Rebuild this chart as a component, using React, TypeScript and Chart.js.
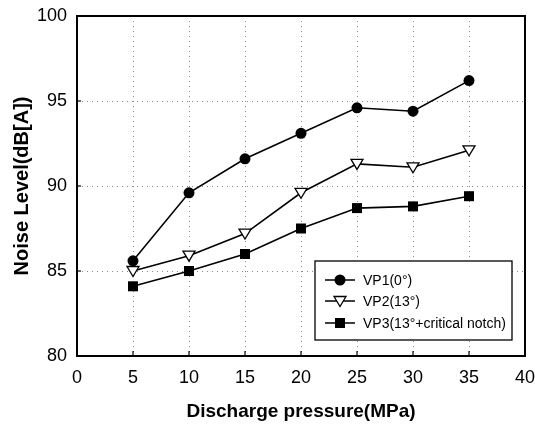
import React, { useEffect, useRef } from 'react';
import { Chart, registerables } from 'chart.js';

Chart.register(...registerables);

const pressures = [5, 10, 15, 20, 25, 30, 35];
const vp1 = [85.6, 89.6, 91.6, 93.1, 94.6, 94.4, 96.2];
const vp2 = [85.0, 85.9, 87.2, 89.6, 91.3, 91.1, 92.1];
const vp3 = [84.1, 85.0, 86.0, 87.5, 88.7, 88.8, 89.4];
const seriesLabels = ['VP1(0°)', 'VP2(13°)', 'VP3(13°+critical notch)'];
const xTitle = 'Discharge pressure(MPa)';
const yTitle = 'Noise Level(dB[A])';
const xMin = 0, xMax = 40, xStep = 5;
const yMin = 80, yMax = 100, yStep = 5;

const FONT = '"Liberation Sans", Arial, Helvetica, sans-serif';

const markerKinds = ['circle', 'triangleDown', 'square'];

function drawMarker(ctx: CanvasRenderingContext2D, kind: string, x: number, y: number) {
  ctx.save();
  ctx.lineWidth = 1.3;
  ctx.strokeStyle = '#000';
  if (kind === 'circle') {
    ctx.fillStyle = '#000';
    ctx.beginPath();
    ctx.arc(x, y, 5.5, 0, Math.PI * 2);
    ctx.fill();
  } else if (kind === 'triangleDown') {
    ctx.fillStyle = '#fff';
    ctx.beginPath();
    ctx.moveTo(x - 6, y - 4.5);
    ctx.lineTo(x + 6, y - 4.5);
    ctx.lineTo(x, y + 5.5);
    ctx.closePath();
    ctx.fill();
    ctx.stroke();
  } else {
    ctx.fillStyle = '#000';
    ctx.fillRect(x - 5, y - 5, 10, 10);
  }
  ctx.restore();
}

const framePlugin = {
  id: 'frameAndLegend',
  afterDraw(chart: any) {
    const { ctx, chartArea, scales } = chart;
    const { left, right, top, bottom } = chartArea;
    ctx.save();
    ctx.strokeStyle = '#000';
    ctx.lineWidth = 1.2;
    for (let v = xMin + xStep; v < xMax; v += xStep) {
      const px = scales.x.getPixelForValue(v);
      ctx.beginPath();
      ctx.moveTo(px, bottom);
      ctx.lineTo(px, bottom - 5);
      ctx.stroke();
    }
    for (let v = yMin + yStep; v < yMax; v += yStep) {
      const py = scales.y.getPixelForValue(v);
      ctx.beginPath();
      ctx.moveTo(left, py);
      ctx.lineTo(left + 4, py);
      ctx.stroke();
    }
    ctx.lineWidth = 2;
    ctx.strokeRect(left, top, right - left, bottom - top);

    const lw = 197, lh = 79;
    const lx = right - 13 - lw;
    const ly = bottom - 16 - lh;
    ctx.fillStyle = '#fff';
    ctx.fillRect(lx, ly, lw, lh);
    ctx.lineWidth = 1.3;
    ctx.strokeStyle = '#000';
    ctx.strokeRect(lx, ly, lw, lh);
    const rows = [19, 40, 62];
    ctx.font = `14px ${FONT}`;
    ctx.textBaseline = 'middle';
    ctx.textAlign = 'left';
    chart.data.datasets.forEach((ds: any, i: number) => {
      const ry = ly + rows[i];
      ctx.strokeStyle = '#000';
      ctx.lineWidth = 1.5;
      ctx.beginPath();
      ctx.moveTo(lx + 10, ry);
      ctx.lineTo(lx + 40, ry);
      ctx.stroke();
      drawMarker(ctx, markerKinds[i], lx + 25, ry);
      ctx.fillStyle = '#000';
      ctx.fillText(ds.label, lx + 48, ry + 1);
    });
    ctx.restore();
  },
};

const markerPlugin = {
  id: 'customMarkers',
  afterDatasetsDraw(chart: any) {
    const { ctx } = chart;
    chart.data.datasets.forEach((ds: any, i: number) => {
      const meta = chart.getDatasetMeta(i);
      meta.data.forEach((pt: any) => {
        drawMarker(ctx, markerKinds[i], pt.x, pt.y);
      });
    });
  },
};

export default function App() {
  const ref = useRef<HTMLCanvasElement | null>(null);

  useEffect(() => {
    document.body.style.margin = '0';
    const canvas = ref.current;
    if (!canvas) return;
    const mk = (label: string, vals: number[]) => ({
      label,
      data: pressures.map((p, i) => ({ x: p, y: vals[i] })),
      borderColor: '#000',
      backgroundColor: '#000',
      borderWidth: 1.6,
      pointRadius: 0,
      pointHoverRadius: 0,
      tension: 0,
      fill: false,
    });
    const chart = new Chart(canvas, {
      type: 'line',
      data: {
        datasets: [mk(seriesLabels[0], vp1), mk(seriesLabels[1], vp2), mk(seriesLabels[2], vp3)],
      },
      plugins: [markerPlugin, framePlugin],
      options: {
        animation: false,
        responsive: false,
        maintainAspectRatio: false,
        events: [],
        layout: { padding: { top: 16, right: 10, left: 0, bottom: 0 } },
        plugins: { legend: { display: false }, tooltip: { enabled: false }, title: { display: false } },
        scales: {
          x: {
            type: 'linear',
            min: xMin,
            max: xMax,
            ticks: {
              stepSize: xStep,
              color: '#000',
              padding: 11,
              font: { family: FONT, size: 18 },
              maxRotation: 0,
            },
            grid: { color: '#8a8a8a', lineWidth: 1, drawTicks: false },
            border: { display: false, dash: [1, 4] },
            title: {
              display: true,
              text: xTitle,
              color: '#000',
              font: { family: FONT, size: 19, weight: 'bold' },
              padding: { top: 2, bottom: 2 },
            },
            afterFit: (s: any) => { s.height = 69; s.paddingLeft = 0; s.paddingRight = 0; },
          },
          y: {
            type: 'linear',
            min: yMin,
            max: yMax,
            ticks: {
              stepSize: yStep,
              color: '#000',
              padding: 10,
              font: { family: FONT, size: 18 },
            },
            grid: { color: '#8a8a8a', lineWidth: 1, drawTicks: false },
            border: { display: false, dash: [1, 4] },
            title: {
              display: true,
              text: yTitle,
              color: '#000',
              font: { family: FONT, size: 20, weight: 'bold' },
              padding: { top: 10, bottom: 10 },
            },
            afterFit: (s: any) => { s.width = 77; s.paddingTop = 0; s.paddingBottom = 0; },
          },
        },
      },
    } as any);
    return () => chart.destroy();
  }, []);

  return (
    <div style={{ width: 535, height: 425, background: '#fff' }}>
      <canvas ref={ref} width={535} height={425} style={{ display: 'block' }} />
    </div>
  );
}
